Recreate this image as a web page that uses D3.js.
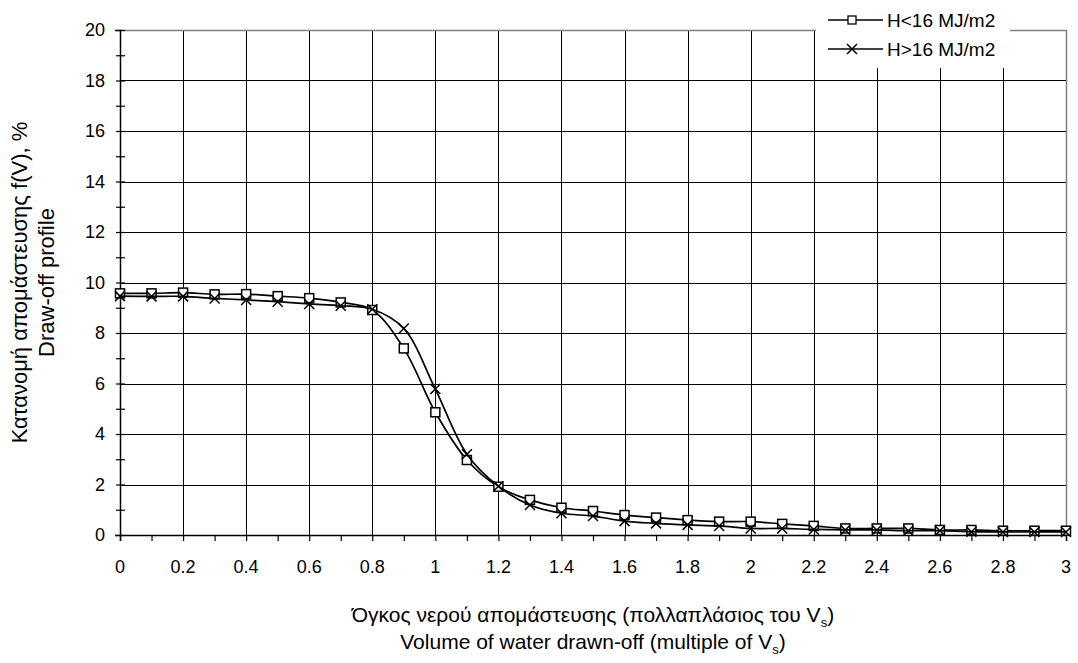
<!DOCTYPE html>
<html><head><meta charset="utf-8">
<script src="https://cdn.jsdelivr.net/npm/d3@7"></script>
<style>body{margin:0;background:#fff}svg{display:block;font-family:"Liberation Sans",Arial,sans-serif}</style>
</head><body><svg id="c" width="1078" height="663"></svg>
<script>
const xValues = [0,0.1,0.2,0.3,0.4,0.5,0.6,0.7,0.8,0.9,1.0,1.1,1.2,1.3,1.4,1.5,1.6,1.7,1.8,1.9,2.0,2.1,2.2,2.3,2.4,2.5,2.6,2.7,2.8,2.9,3.0];
const seriesLow = [9.57,9.57,9.6,9.53,9.54,9.46,9.38,9.21,8.91,7.39,4.86,2.97,1.91,1.39,1.08,0.95,0.79,0.69,0.59,0.53,0.53,0.44,0.36,0.26,0.26,0.26,0.2,0.2,0.17,0.17,0.17];
const seriesHigh = [9.46,9.45,9.45,9.37,9.31,9.24,9.15,9.08,8.94,8.18,5.78,3.2,1.93,1.19,0.86,0.75,0.55,0.46,0.4,0.36,0.26,0.26,0.22,0.2,0.2,0.17,0.17,0.13,0.12,0.12,0.12];
const seriesNames = ["H<16 MJ/m2","H>16 MJ/m2"];
const xTickLabels = ["0","0.2","0.4","0.6","0.8","1","1.2","1.4","1.6","1.8","2","2.2","2.4","2.6","2.8","3"];
const yTickLabels = ["0","2","4","6","8","10","12","14","16","18","20"];

const svg = d3.select("#c");
const L=120,R=1066,T=30,B=535;
const x = d3.scaleLinear().domain([0,3]).range([L,R]);
const y = d3.scaleLinear().domain([0,20]).range([B,T]);
const font = '"Liberation Sans",Arial,sans-serif';

// gridlines
const g = svg.append("g");
g.selectAll(".vg").data(d3.range(1,15).map(i=>i*0.2)).join("line")
  .attr("x1",d=>Math.round(x(d))+0.5).attr("x2",d=>Math.round(x(d))+0.5).attr("y1",T).attr("y2",B).attr("stroke","#000").attr("stroke-width",1);
g.selectAll(".hg").data(d3.range(1,10).map(i=>i*2)).join("line")
  .attr("y1",d=>Math.round(y(d))+0.5).attr("y2",d=>Math.round(y(d))+0.5).attr("x1",L).attr("x2",R).attr("stroke","#000").attr("stroke-width",1);
// plot border top/right gray
svg.append("path").attr("d",`M${L},${T+0.5}H${R+0.5}V${B}`).attr("fill","none").attr("stroke","#808080").attr("stroke-width",1.5);

// axes
const xAxis = d3.axisBottom(x).tickValues(d3.range(0,31).map(i=>i/10)).tickSize(6).tickFormat("");
svg.append("g").attr("transform",`translate(0,${B})`).call(xAxis)
  .call(s=>{s.select(".domain").attr("stroke","#000").attr("stroke-width",1.5);s.selectAll(".tick line").attr("stroke-width",1.2);});
svg.append("g").selectAll("text").data(xTickLabels).join("text")
  .attr("x",(d)=>x(+d)).attr("y",573).attr("text-anchor","middle").attr("font-size",18).attr("font-family",font).text(d=>d);

const yAxis = d3.axisLeft(y).tickValues(d3.range(0,21)).tickSize(5).tickFormat("");
const ya = svg.append("g").attr("transform",`translate(${L},0)`).call(yAxis);
ya.select(".domain").attr("stroke","#000").attr("stroke-width",1.5);
ya.selectAll(".tick line").attr("x1",5).attr("x2",-4).attr("stroke-width",1.2);
svg.append("g").selectAll("text").data(yTickLabels).join("text")
  .attr("x",105).attr("y",d=>y(+d)).attr("dy","0.36em").attr("text-anchor","end").attr("font-size",18).attr("font-family",font).text(d=>d);

// series
const line = d3.line().x((d,i)=>x(xValues[i])).y(d=>y(d)).curve(d3.curveCatmullRom.alpha(0.5));
function drawSeries(vals, kind){
  svg.append("path").datum(vals).attr("d",line).attr("fill","none").attr("stroke","#000").attr("stroke-width",1.7);
  const m = svg.append("g");
  vals.forEach((v,i)=>{
    const cx=x(xValues[i]), cy=y(v);
    if(kind==="sq"){
      m.append("rect").attr("x",cx-4.5).attr("y",cy-4.5).attr("width",9).attr("height",9).attr("fill","#fff").attr("stroke","#000").attr("stroke-width",1.5);
    } else {
      m.append("path").attr("d",`M${cx-5},${cy-5}L${cx+5},${cy+5}M${cx-5},${cy+5}L${cx+5},${cy-5}`).attr("stroke","#000").attr("stroke-width",1.5);
    }
  });
}
drawSeries(seriesLow,"sq");
drawSeries(seriesHigh,"x");

// legend
const lg = svg.append("g");
lg.append("rect").attr("x",816).attr("y",0).attr("width",194).attr("height",68).attr("fill","#fff");
const rows=[{name:seriesNames[0],k:"sq",cy:20},{name:seriesNames[1],k:"x",cy:49}];
rows.forEach(r=>{
  lg.append("line").attr("x1",828).attr("x2",883).attr("y1",r.cy).attr("y2",r.cy).attr("stroke","#000").attr("stroke-width",1.5);
  if(r.k==="sq") lg.append("rect").attr("x",848).attr("y",r.cy-4).attr("width",8).attr("height",8).attr("fill","#fff").attr("stroke","#000").attr("stroke-width",1.3);
  else lg.append("path").attr("d",`M${852-5},${r.cy-5}L${852+5},${r.cy+5}M${852-5},${r.cy+5}L${852+5},${r.cy-5}`).attr("stroke","#000").attr("stroke-width",1.5);
  lg.append("text").attr("x",887).attr("y",r.cy).attr("dy","0.36em").attr("font-size",19).attr("font-family",font).text(r.name);
});

// axis titles
function vsub(t, pre){
  t.append("tspan").text(pre);
  t.append("tspan").attr("font-size",13).attr("dy",5).text("s");
  t.append("tspan").attr("dy",-5).text(")");
}
const cxm=(L+R)/2;
const t1=svg.append("text").attr("x",cxm).attr("y",622).attr("text-anchor","middle").attr("font-size",21).attr("font-family",font);
vsub(t1,"Όγκος νερού απομάστευσης (πολλαπλάσιος του V");
const t2=svg.append("text").attr("x",cxm).attr("y",649).attr("text-anchor","middle").attr("font-size",21).attr("font-family",font);
vsub(t2,"Volume of water drawn-off (multiple of V");

const cym=(T+B)/2;
svg.append("text").attr("transform",`translate(27,${cym}) rotate(-90)`).attr("text-anchor","middle").attr("font-size",22).attr("font-family",font).text("Κατανομή απομάστευσης f(V), %");
svg.append("text").attr("transform",`translate(54,${cym}) rotate(-90)`).attr("text-anchor","middle").attr("font-size",22).attr("font-family",font).text("Draw-off profile");
</script></body></html>
